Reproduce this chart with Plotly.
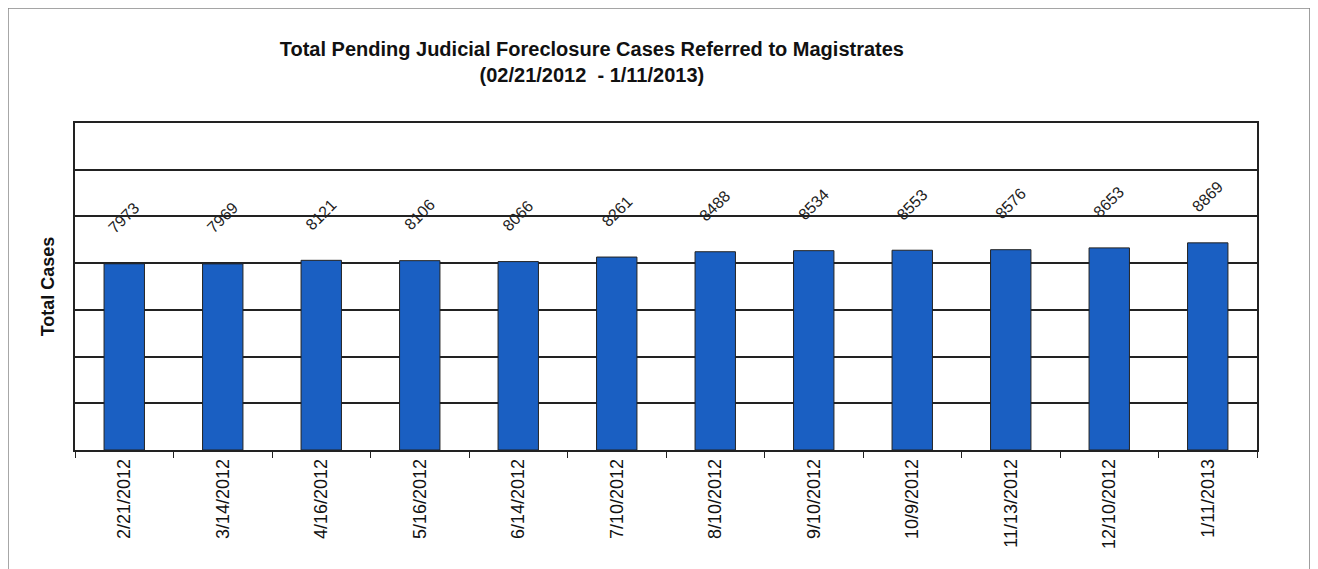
import plotly.graph_objects as go

DATES = [
    "2/21/2012", "3/14/2012", "4/16/2012", "5/16/2012", "6/14/2012", "7/10/2012",
    "8/10/2012", "9/10/2012", "10/9/2012", "11/13/2012", "12/10/2012", "1/11/2013",
]
TOTAL_CASES = [7973, 7969, 8121, 8106, 8066, 8261, 8488, 8534, 8553, 8576, 8653, 8869]

BAR_COLOR = "#1a5fc2"
FONT = "Liberation Sans, Arial, sans-serif"

fig = go.Figure()
fig.add_trace(
    go.Bar(
        x=DATES,
        y=TOTAL_CASES,
        marker=dict(color=BAR_COLOR, line=dict(color="#222222", width=1)),
        showlegend=False,
    )
)

# rotated value labels above each bar
for d, v in zip(DATES, TOTAL_CASES):
    fig.add_annotation(
        x=d, y=v, text=str(v), textangle=-45, showarrow=False,
        yshift=46, font=dict(family=FONT, size=16, color="#222222"),
    )

fig.update_layout(
    width=1318,
    height=569,
    margin=dict(l=67, r=69, t=115, b=127),
    plot_bgcolor="#FFFFFF",
    paper_bgcolor="#FFFFFF",
    bargap=0.59,
    font=dict(family=FONT, color="#111111"),
    title=dict(
        text="<b>Total Pending Judicial Foreclosure Cases Referred to Magistrates"
             "<br>(02/21/2012  - 1/11/2013)</b>",
        x=0.443, xanchor="center", y=0.915, yanchor="middle",
        font=dict(family=FONT, size=20, color="#111111"),
    ),
    shapes=[
        dict(type="rect", xref="paper", yref="paper",
             x0=-0.0567, x1=1.0448, y0=-0.6, y1=1.352,
             line=dict(color="#888888", width=1.5)),
    ],
)

fig.update_xaxes(
    type="category",
    showline=True, linecolor="#222222", linewidth=1.5, mirror=True,
    ticks="outside", tickson="boundaries", ticklen=6, tickcolor="#222222",
    tickangle=-90,
    tickfont=dict(family=FONT, size=18, color="#111111"),
    showgrid=False,
)
fig.update_yaxes(
    range=[0, 14000], dtick=2000,
    showticklabels=False,
    showline=True, linecolor="#222222", linewidth=1.5, mirror=True,
    showgrid=True, gridcolor="#222222", gridwidth=1.5,
    zeroline=False,
    title=dict(text="<b>Total Cases</b>", font=dict(family=FONT, size=18, color="#111111"), standoff=14),
)

fig.write_html("out.html")
